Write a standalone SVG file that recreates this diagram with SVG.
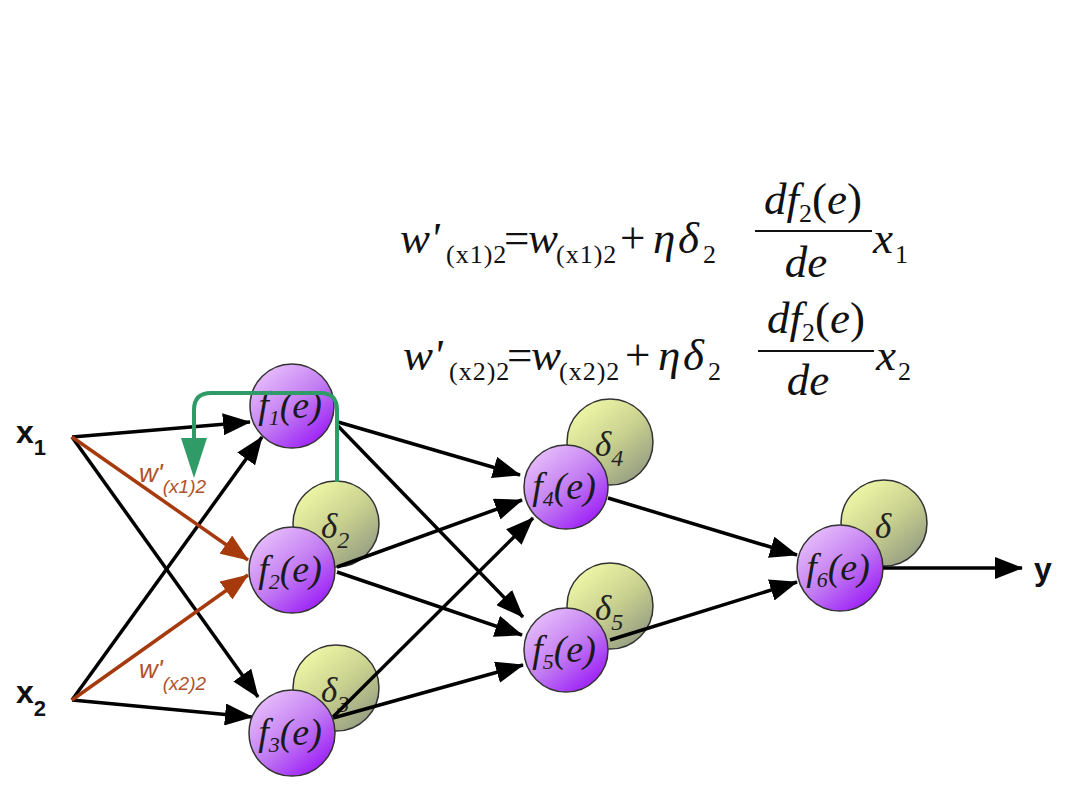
<svg xmlns="http://www.w3.org/2000/svg" width="1080" height="810" viewBox="0 0 1080 810">
<style>
.eq{font-family:"Liberation Serif",serif;font-size:45px;fill:#111}
.it{font-style:italic}
.sub{font-size:26px}
.ft{font-family:"Liberation Serif",serif;font-style:italic;font-size:38px;fill:#1a1a1a}
.dt{font-family:"Liberation Serif",serif;font-style:italic;font-size:35px;fill:#222}
.io{font-family:"Liberation Sans",Arial,sans-serif;font-weight:bold;font-size:32px;fill:#111}
.wl{font-family:"Liberation Sans",Arial,sans-serif;font-style:italic;font-size:26px;fill:#b0522a}
.e{stroke:#000;stroke-width:3.5;fill:none;marker-end:url(#ab)}
.b{stroke:#a63a0c;stroke-width:3.5;fill:none;marker-end:url(#ar)}
.fn{fill:url(#gp);stroke:#333;stroke-width:1.5}
.dn{fill:url(#gd);stroke:#333;stroke-width:1.5}
</style>
<defs>
<linearGradient id="gp" x1="0.15" y1="0.1" x2="0.85" y2="0.95">
<stop offset="0" stop-color="#e6bcfb"/>
<stop offset="0.5" stop-color="#c27cf2"/>
<stop offset="1" stop-color="#9a18f8"/>
</linearGradient>
<linearGradient id="gd" x1="0.15" y1="0.1" x2="0.85" y2="0.95">
<stop offset="0" stop-color="#eef7a6"/>
<stop offset="0.5" stop-color="#c9d18f"/>
<stop offset="1" stop-color="#939a82"/>
</linearGradient>
<marker id="ab" markerUnits="userSpaceOnUse" markerWidth="28" markerHeight="22" refX="27" refY="11" orient="auto">
<path d="M0,0 L28,11 L0,22 z" fill="#000"/>
</marker>
<marker id="ar" markerUnits="userSpaceOnUse" markerWidth="28" markerHeight="22" refX="27" refY="11" orient="auto">
<path d="M0,0 L28,11 L0,22 z" fill="#a63a0c"/>
</marker>
</defs>
<rect width="1080" height="810" fill="#fff"/>

<g id="equations">
<g id="eq1">
<text class="eq it" x="400" y="253">w'</text>
<text class="eq sub" x="446" y="263" letter-spacing="1">(x1)2</text>
<text class="eq" x="504" y="253">=</text>
<text class="eq it" x="528" y="253">w</text>
<text class="eq sub" x="556" y="263" letter-spacing="1">(x1)2</text>
<text class="eq" x="620" y="253">+</text>
<text class="eq it" x="653" y="253">η</text>
<text class="eq it" x="678" y="253">δ</text>
<text class="eq sub" x="703" y="263">2</text>
<text class="eq" x="764" y="214"><tspan class="it">df</tspan><tspan font-size="26" dy="8">2</tspan><tspan dy="-8">(</tspan><tspan class="it">e</tspan><tspan>)</tspan></text>
<line x1="755" y1="231" x2="872" y2="231" stroke="#111" stroke-width="2"/>
<text class="eq it" x="806" y="277" text-anchor="middle">de</text>
<text class="eq it" x="873" y="253">x</text>
<text class="eq sub" x="895" y="263">1</text>
</g>
<g id="eq2">
<text class="eq it" x="403" y="370">w'</text>
<text class="eq sub" x="449" y="380" letter-spacing="1">(x2)2</text>
<text class="eq" x="507" y="370">=</text>
<text class="eq it" x="531" y="370">w</text>
<text class="eq sub" x="559" y="380" letter-spacing="1">(x2)2</text>
<text class="eq" x="625" y="370">+</text>
<text class="eq it" x="658" y="370">η</text>
<text class="eq it" x="683" y="370">δ</text>
<text class="eq sub" x="708" y="380">2</text>
<text class="eq" x="767" y="333"><tspan class="it">df</tspan><tspan font-size="26" dy="8">2</tspan><tspan dy="-8">(</tspan><tspan class="it">e</tspan><tspan>)</tspan></text>
<line x1="758" y1="351" x2="874" y2="351" stroke="#111" stroke-width="2"/>
<text class="eq it" x="808" y="395" text-anchor="middle">de</text>
<text class="eq it" x="876" y="370">x</text>
<text class="eq sub" x="898" y="380">2</text>
</g>
</g>

<g id="x1"><text class="io" x="16" y="443">x<tspan font-size="22" dy="12">1</tspan></text></g>
<g id="x2"><text class="io" x="16" y="703">x<tspan font-size="22" dy="13">2</tspan></text></g>
<g id="y"><text class="io" x="1034" y="580">y</text></g>

<g id="n1">
<circle class="fn" cx="292" cy="406" r="42"/>
<text class="ft" x="290" y="418" text-anchor="middle">f<tspan font-size="22" dy="7">1</tspan><tspan dy="-7">(e)</tspan></text>
</g>
<g id="n2">
<circle class="dn" cx="336" cy="524" r="43"/>
<text class="dt" x="321" y="538">δ<tspan font-size="24" dy="10">2</tspan></text>
<circle class="fn" cx="292" cy="570" r="43"/>
<text class="ft" x="290" y="582" text-anchor="middle">f<tspan font-size="22" dy="7">2</tspan><tspan dy="-7">(e)</tspan></text>
</g>
<g id="n3">
<circle class="dn" cx="336" cy="688" r="43"/>
<text class="dt" x="321" y="702">δ<tspan font-size="24" dy="10">3</tspan></text>
</g>
<g id="n4">
<circle class="dn" cx="610" cy="442" r="43"/>
<text class="dt" x="595" y="456">δ<tspan font-size="24" dy="10">4</tspan></text>
<circle class="fn" cx="566" cy="487" r="42"/>
<text class="ft" x="564" y="499" text-anchor="middle">f<tspan font-size="22" dy="7">4</tspan><tspan dy="-7">(e)</tspan></text>
</g>
<g id="n5">
<circle class="dn" cx="610" cy="606" r="43"/>
<text class="dt" x="595" y="620">δ<tspan font-size="24" dy="10">5</tspan></text>
<circle class="fn" cx="566" cy="650" r="42"/>
<text class="ft" x="564" y="662" text-anchor="middle">f<tspan font-size="22" dy="7">5</tspan><tspan dy="-7">(e)</tspan></text>
</g>
<g id="n6">
<circle class="dn" cx="884" cy="523" r="43"/>
<text class="dt" x="875" y="538">δ</text>
<circle class="fn" cx="840" cy="568" r="43"/>
<text class="ft" x="838" y="580" text-anchor="middle">f<tspan font-size="22" dy="7">6</tspan><tspan dy="-7">(e)</tspan></text>
</g>

<g id="connectors">
<path class="e" d="M72 437 L250 422"/>
<path class="e" d="M72 437 L258 697"/>
<path class="e" d="M72 700 L262 437"/>
<path class="e" d="M72 700 L252 717"/>
<path class="b" d="M72 437 L248 560"/>
<path class="b" d="M72 700 L248 575"/>
<path class="e" d="M338 422 L520 475"/>
<path class="e" d="M337 425 L523 617"/>
<path class="e" d="M337 567 L522 500"/>
<path class="e" d="M337 572 L522 635"/>
<path class="e" d="M333 717 L533 518"/>
<path class="e" d="M333 718 L523 665"/>
<path class="e" d="M608 498 L797 555"/>
<path class="e" d="M610 640 L797 582"/>
<path class="e" d="M883 568 L1022 568"/>
<path d="M337 482 V410 Q337 393 320 393 H211 Q194 393 194 410 V440" stroke="#2f9c68" stroke-width="4" fill="none"/>
<path d="M181 438 L207 438 L194 478 z" fill="#2f9c68"/>
</g>

<g id="n3f">
<circle class="fn" cx="292" cy="733" r="43"/>
<text class="ft" x="290" y="745" text-anchor="middle">f<tspan font-size="22" dy="7">3</tspan><tspan dy="-7">(e)</tspan></text>
</g>

<g id="labels">
<text class="wl" x="139" y="482">w'<tspan font-size="19" dy="11">(x1)2</tspan></text>
<text class="wl" x="139" y="678">w'<tspan font-size="19" dy="12">(x2)2</tspan></text>
</g>
</svg>
